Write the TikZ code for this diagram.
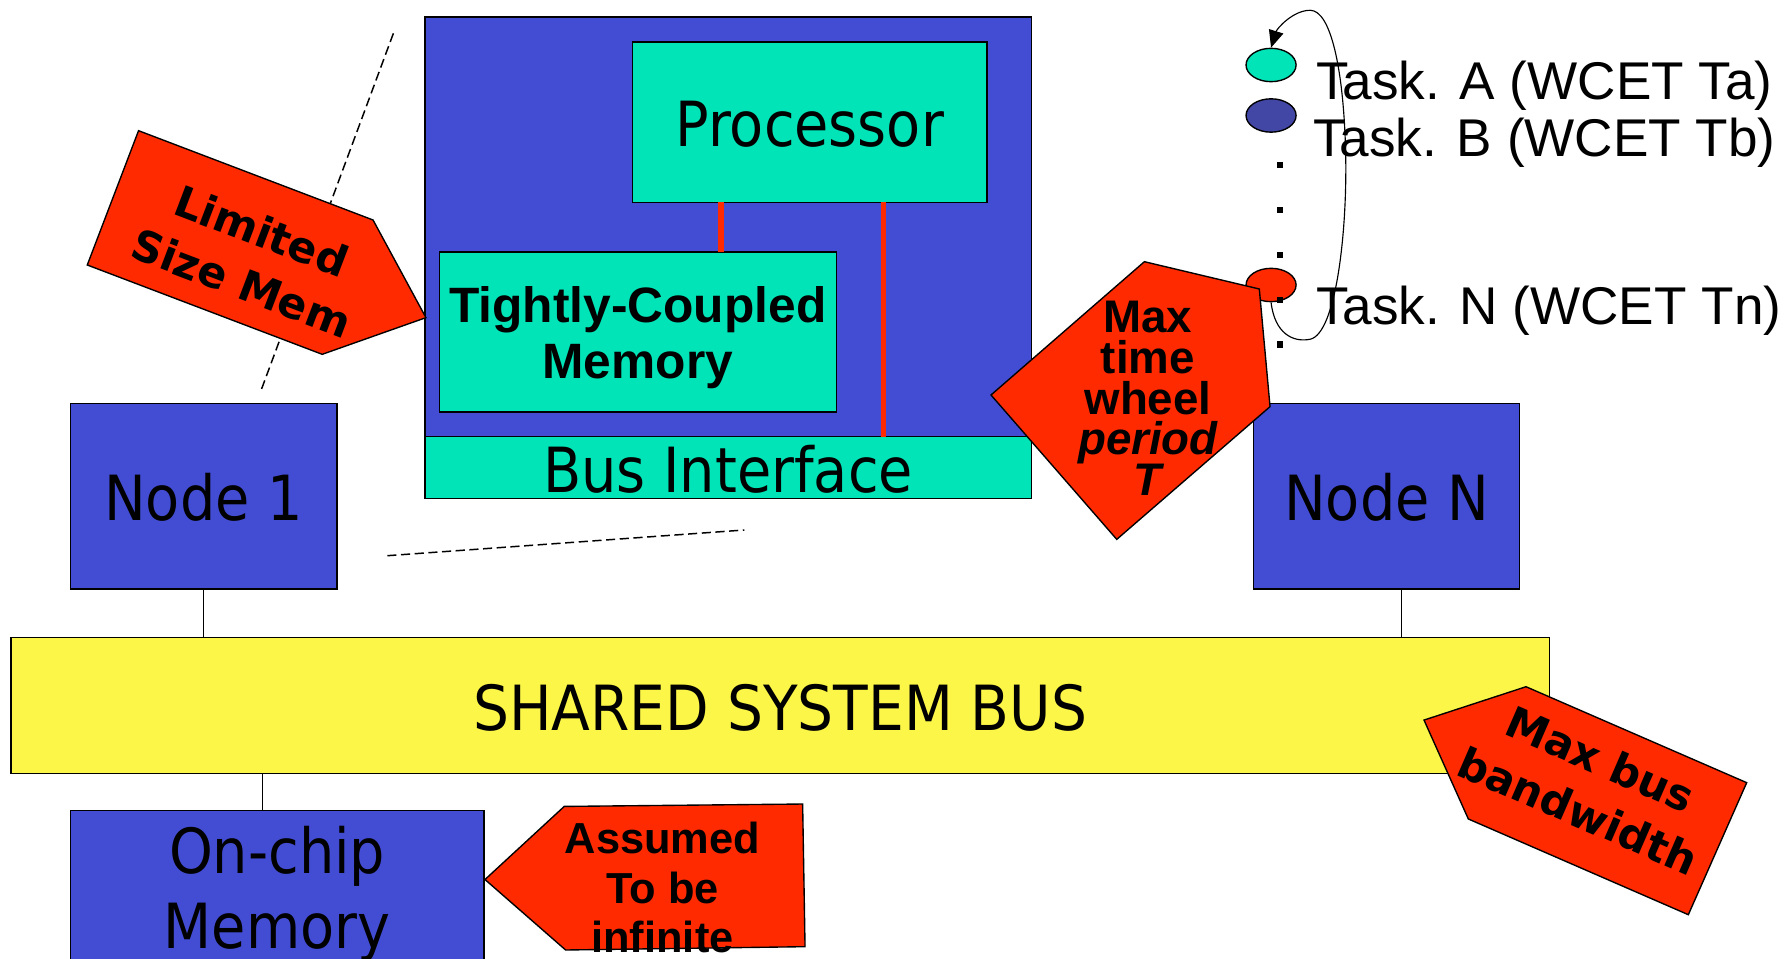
\documentclass[tikz,border=0pt]{standalone}
\usepackage{fontspec}
\usetikzlibrary{shapes.geometric,arrows.meta}
\newfontfamily\labelfont{DejaVu Sans}[FakeStretch=0.895]
\newfontfamily\calloutfont{DejaVu Sans}
\newfontfamily\arialfont{Liberation Sans}
\definecolor{nodeblue}{RGB}{67,77,212}
\definecolor{taskblue}{RGB}{66,70,165}
\definecolor{tealfill}{RGB}{0,228,184}
\definecolor{busyellow}{RGB}{252,246,72}
\definecolor{alertred}{RGB}{255,42,0}
% struts that fix the top of the first line and the bottom of the last line
\newcommand\tstrut[1]{\rule{0pt}{#1}}
\newcommand\bstrut[1]{\rule[-#1]{0pt}{#1}}
% lets lines sit closer than their glyphs would normally allow
\newcommand\tightlines{\lineskiplimit=-100pt\relax}

\begin{document}
\begin{tikzpicture}[x=1pt, y=-1pt,
  outline/.style={draw=black, line width=1.2pt},
  box/.style={outline, inner sep=0pt, outer sep=0pt, anchor=north west,
    font=\labelfont\fontsize{54.5}{65.6}\selectfont, text height=43pt, text depth=0pt},
  stackbox/.style={outline, inner sep=0pt, outer sep=0pt, anchor=north west, align=center},
  wire/.style={draw=black, line width=0.9pt},
  redlink/.style={draw=alertred, line width=5pt},
  callshape/.style={outline, fill=alertred, line join=miter},
  calloutbold/.style={inner sep=0pt, align=center, anchor=north,
    font=\calloutfont\bfseries\fontsize{37.5}{49}\selectfont},
  narrowbold/.style={inner sep=0pt, align=center, anchor=north},
  task/.style={outline, ellipse, minimum width=43.8pt, minimum height=29.2pt, inner sep=0pt},
  tasklabel/.style={anchor=base west, inner sep=0pt, font=\arialfont\fontsize{46.5}{55}\selectfont},
  dotmark/.style={fill=black, minimum size=5.8pt, inner sep=0pt},
  zoomline/.style={draw=black, line width=1.3pt, dash pattern=on 8pt off 4pt},
  wheelloop/.style={draw=black, line width=1pt, -{Triangle[length=15pt,width=13pt]}}
]
\useasboundingbox (0,0) rectangle (1568,839);
\clip (0,0) rectangle (1568,839);

% zoom-in guide lines
\coordinate (guideA1) at (344.4,29.2);
\coordinate (guideA2) at (227.8,343.8);
\coordinate (guideB1) at (339.1,486.5);
\coordinate (guideB2) at (651.7,464);
\draw[zoomline] (guideA1) -- (guideA2);
\draw[zoomline] (guideB1) -- (guideB2);

% expanded node: processor, TCM and bus interface
\node[box, fill=nodeblue, minimum width=531pt, minimum height=421.5pt] (cpu) at (372,15) {};
\node[box, fill=tealfill, minimum width=310.5pt, minimum height=140.3pt] (proc) at (553.7,36.8) {Processor};
\node[stackbox, fill=tealfill, minimum width=347.4pt, minimum height=140.1pt,
  font=\arialfont\bfseries\fontsize{43.5}{49.6}\selectfont] (tcm) at (384.7,220.6)
  {\tstrut{43.5pt}Tightly-Coupled\\Memory\bstrut{11.1pt}};
\node[box, fill=tealfill, minimum width=531pt, minimum height=54pt] (busif) at (372,382.3) {Bus Interface};
\draw[redlink] ([xshift=77.5pt]proc.south west) -- ([xshift=77.5pt]proc.south west |- tcm.north);
\draw[redlink] ([xshift=219.8pt]proc.south west) -- ([xshift=219.8pt]proc.south west |- busif.north);

% callout: limited memory
\draw[callshape] (121.3,114.4) -- (326.6,192.6) -- (372.9,278.1) -- (282.1,310.2) -- (76.4,232) -- cycle;
\node[calloutbold, rotate=-20.85] (limtext) at (237.5,179.8) {\tstrut{37.5pt}Limited\\Size Mem};

% system level
\node[box, fill=nodeblue, minimum width=233.5pt, minimum height=162pt] (node1) at (61.5,353.5) {Node 1};
\node[box, fill=nodeblue, minimum width=233pt, minimum height=162pt] (nodeN) at (1097.5,353.5) {Node N};
\node[box, fill=busyellow, minimum width=1347pt, minimum height=118.7pt] (bus) at (9.5,558.3)
  {\addfontfeature{FakeStretch=0.91}SHARED SYSTEM BUS};
\node[stackbox, fill=nodeblue, minimum width=362.2pt, minimum height=180pt,
  font=\labelfont\fontsize{54.5}{65.6}\selectfont] (mem) at (61.5,709.7)
  {\tstrut{44pt}On-chip\\Memory\bstrut{48.6pt}};
\draw[wire] (node1.south) -- (node1.south |- bus.north);
\draw[wire] ([xshift=12.9pt]nodeN.south) -- ([xshift=12.9pt]nodeN.south |- bus.north);
\draw[wire] ([xshift=-12.9pt]mem.north) -- ([xshift=-12.9pt]mem.north |- bus.south);

% task list
\node[task, fill=tealfill] (taskA) at (1112.8,56.9) {};
\node[task, fill=taskblue] (taskB) at (1112.8,101.1) {};
\node[task, fill=alertred] (taskN) at (1112.8,249.5) {};
\node[tasklabel] (labA) at (1152,87.5) {Task. A (WCET Ta)};
\node[tasklabel] (labB) at (1149.5,137.2) {Task. B (WCET Tb)};
\node[tasklabel] (labN) at (1152,284.5) {Task. N (WCET Tn)};

% callout: time wheel period
\draw[callshape] (1001.9,229.1) -- (1102.5,253) -- (1111.9,356) -- (977.7,472.2) -- (867.6,345.8) -- cycle;
\node[narrowbold, font=\arialfont\bfseries\fontsize{40}{35.5}\selectfont\tightlines]
  (wheeltext) at (1005,251.3) {\tstrut{40pt}Max\\time\\wheel\\{\itshape period}\\{\itshape T}};

\node[dotmark] (dot1) at (1120.6,144.5) {};
\node[dotmark] (dot2) at (1120.6,183.9) {};
\node[dotmark] (dot3) at (1120.6,223.3) {};
\node[dotmark] (dot4) at (1120.6,262.7) {};
\node[dotmark] (dot5) at (1120.6,301.4) {};
\draw[wheelloop] (taskN.south) .. controls (1116,292) and (1132,300) .. (1147,297)
  .. controls (1170,292) and (1180,200) .. (1178,130)
  .. controls (1176,60) and (1165,9) .. (1147,9)
  .. controls (1132,9) and (1118,25) .. (taskA.north);

% callout: bus bandwidth
\draw[callshape] (1246.7,630.4) -- (1336,601.2) -- (1529.2,685.2) -- (1478.1,800.8) -- (1285.5,717) -- cycle;
\node[calloutbold, rotate=-23.5] (bwtext) at (1410.7,642.9) {\tstrut{37.5pt}Max bus\\bandwidth};

% callout: memory size
\draw[callshape] (424.6,770) -- (494,706) -- (702.7,703.9) -- (704.8,828.8) -- (495.2,831.7) -- cycle;
\node[narrowbold, font=\arialfont\bfseries\fontsize{38}{43.5}\selectfont]
  (inftext) at (580,709) {\tstrut{38pt}Assumed\\To be\\infinite};
\end{tikzpicture}
\end{document}
